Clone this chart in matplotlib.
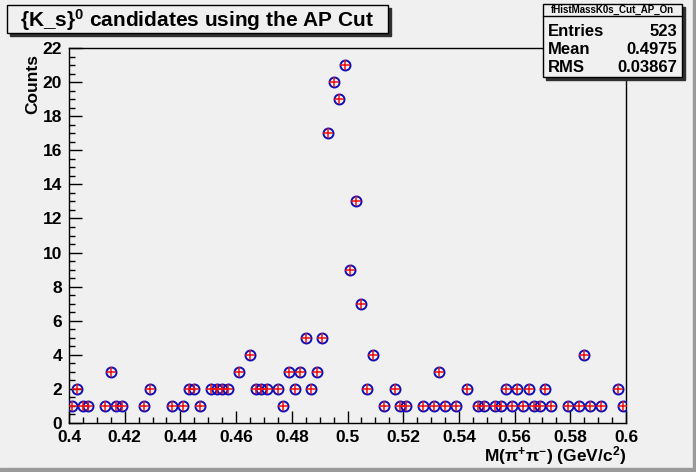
import numpy as np
import matplotlib
matplotlib.use("Agg")
import matplotlib.pyplot as plt
from matplotlib.patches import Rectangle
from matplotlib.ticker import MultipleLocator

# histogram: 100 bins between 0.4 and 0.6 GeV/c^2
x_lo, x_hi, n_bins = 0.4, 0.6, 100
counts = [1, 2, 1, 1, 0, 0, 1, 3, 1, 1,
          0, 0, 0, 1, 2, 0, 0, 0, 1, 0,
          1, 2, 2, 1, 0, 2, 2, 2, 2, 0,
          3, 0, 4, 2, 2, 2, 0, 2, 1, 3,
          2, 3, 5, 2, 3, 5, 17, 20, 19, 21,
          9, 13, 7, 2, 4, 0, 1, 0, 2, 1,
          1, 0, 0, 1, 0, 1, 3, 1, 0, 1,
          0, 2, 0, 1, 1, 0, 1, 1, 2, 1,
          2, 1, 2, 1, 1, 2, 1, 0, 0, 1,
          0, 1, 4, 1, 0, 1, 0, 0, 2, 1]

hist_name = "fHistMassK0s_Cut_AP_On"
stat_names = ["Entries", "Mean", "RMS"]
stat_values = ["523", "0.4975", "0.03867"]

W, H = 696, 472
bg = "#f0f0f0"

plt.rcParams["font.family"] = ["Liberation Sans", "DejaVu Sans"]
plt.rcParams["font.weight"] = "bold"
plt.rcParams["mathtext.fontset"] = "custom"
plt.rcParams["mathtext.rm"] = "Liberation Sans:bold"
plt.rcParams["mathtext.bf"] = "Liberation Sans:bold"
plt.rcParams["mathtext.default"] = "bf"

fig = plt.figure(figsize=(W / 100, H / 100), dpi=100, facecolor=bg)


def px(x0, y0, x1, y1):
    # pixel box (from top-left) -> figure fraction rect
    return (x0 / W, 1 - y1 / H, (x1 - x0) / W, (y1 - y0) / H)


def box(x0, y0, x1, y1, **kw):
    r = px(x0, y0, x1, y1)
    fig.patches.append(Rectangle(r[:2], *r[2:], transform=fig.transFigure, **kw))


#SD canvas border (raised look)
box(0, 468, W, H, color="#9a9a9a", zorder=0)
box(W - 3, 0, W, H, color="#9a9a9a", zorder=0)

ax = fig.add_axes(px(69, 48, 626, 423))
ax.set_facecolor(bg)

edges = np.linspace(x_lo, x_hi, n_bins + 1)
centers = 0.5 * (edges[:-1] + edges[1:])
counts = np.array(counts)
keep = counts > 0

ax.plot(centers[keep], counts[keep], ls="none", marker="o", ms=7.2,
        mfc="none", mec="#1010b8", mew=1.4, zorder=3)
ax.plot(centers[keep], counts[keep], ls="none", marker="+", ms=7.0,
        mec="#ee1111", mew=1.1, zorder=4)

ax.set_xlim(x_lo, x_hi)
ax.set_ylim(0, 22)
ax.xaxis.set_major_locator(MultipleLocator(0.02))
ax.xaxis.set_minor_locator(MultipleLocator(0.005))
ax.yaxis.set_major_locator(MultipleLocator(2))
ax.yaxis.set_minor_locator(MultipleLocator(0.5))
ax.set_xticklabels([f"{v:g}" for v in ax.get_xticks()])
ax.tick_params(which="both", direction="in", top=False, right=False,
               width=1.0, labelsize=12.5, pad=5)
ax.tick_params(which="major", length=9)
ax.tick_params(which="minor", length=4.5)
for s in ax.spines.values():
    s.set_linewidth(1.0)
for lab in ax.get_xticklabels() + ax.get_yticklabels():
    lab.set_fontweight("bold")

fig.text(626 / W, 1 - 456 / H, r"M($\pi^{+}\pi^{-}$) (GeV/c$^{2}$)",
         ha="right", va="center", fontsize=12.5)
fig.text(33 / W, 1 - 54 / H, "Counts", rotation=90, ha="center", va="top",
         fontsize=12.5)

#SD title box with shadow
box(10, 8, 391, 36, color="#303030", zorder=1)
box(7, 5, 388, 33, facecolor=bg, edgecolor="black", lw=1.0, zorder=2)
fig.text(197 / W, 1 - 20 / H, "{K_s}$^{0}$ candidates using the AP Cut",
         ha="center", va="center", fontsize=15, zorder=3)

#SD stats box with shadow
box(546, 7, 685, 80, color="#303030", zorder=5)
box(543, 4, 682, 77, facecolor=bg, edgecolor="black", lw=1.0, zorder=6)
fig.add_artist(plt.Line2D([543 / W, 682 / W], [1 - 16 / H, 1 - 16 / H],
                          transform=fig.transFigure, color="black", lw=1.0,
                          zorder=7))
fig.text(612 / W, 1 - 10 / H, hist_name, ha="center", va="center",
         fontsize=7, zorder=7)
for i, (name, val) in enumerate(zip(stat_names, stat_values)):
    yy = 1 - (31 + 18.5 * i) / H
    fig.text(548 / W, yy, name, ha="left", va="center", fontsize=12, zorder=7)
    fig.text(677 / W, yy, val, ha="right", va="center", fontsize=12, zorder=7)

fig.savefig("out.png", dpi=100, facecolor=bg)
